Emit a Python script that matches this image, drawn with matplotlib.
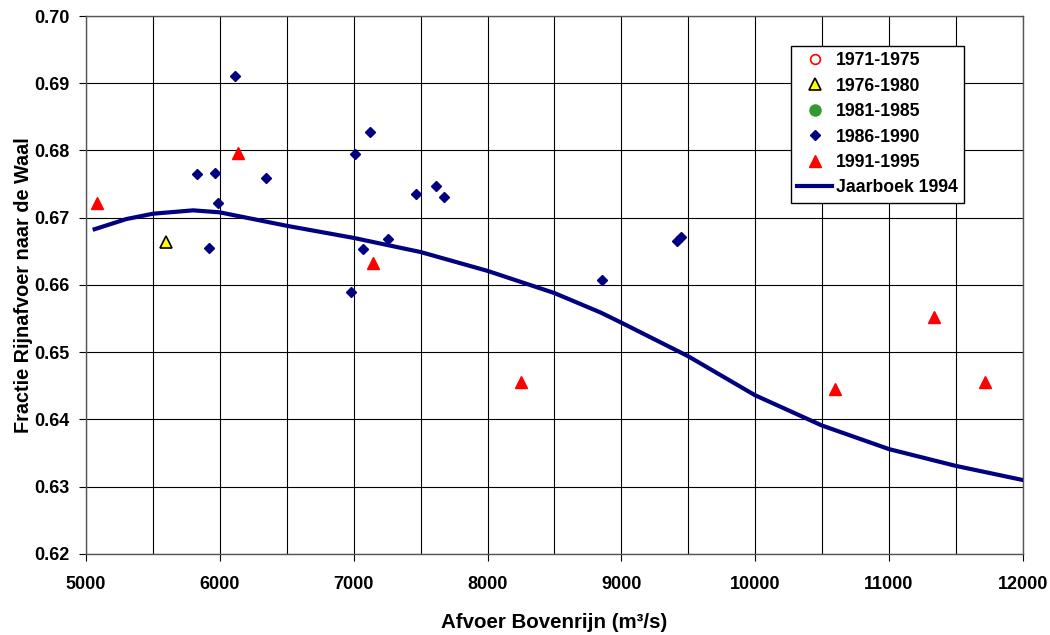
import matplotlib
matplotlib.use("Agg")
import matplotlib.pyplot as plt
from matplotlib.ticker import MultipleLocator

plt.rcParams['font.family'] = ['Liberation Sans', 'DejaVu Sans']
plt.rcParams['font.weight'] = 'bold'

# observed points per period (afvoer m3/s, fractie Waal)
q_7175, f_7175 = [], []
q_7680, f_7680 = [5600], [0.6664]
q_8185, f_8185 = [], []
q_8690 = [6112, 5828, 5963, 5985, 5918, 6343, 7007, 7119, 7067, 7254, 6978,
          7463, 7612, 7672, 8858, 9420, 9445]
f_8690 = [0.6911, 0.6765, 0.6767, 0.6722, 0.6655, 0.6759, 0.6795, 0.6827, 0.6654, 0.6668, 0.6589,
          0.6736, 0.6747, 0.6731, 0.6607, 0.6666, 0.6672]
q_9195 = [5080, 6134, 7142, 8247, 10599, 11336, 11718]
f_9195 = [0.6722, 0.6796, 0.6633, 0.6455, 0.6445, 0.6553, 0.6455]

# Jaarboek 1994 curve
q_jb = [5064, 5300, 5500, 5800, 6000, 6500, 7000, 7500, 8000, 8500, 8846,
        9000, 9500, 10000, 10500, 11000, 11500, 12000]
f_jb = [0.6683, 0.6698, 0.6706, 0.6711, 0.6708, 0.6688, 0.6670, 0.6649, 0.6621, 0.6588, 0.6559,
        0.6544, 0.6494, 0.6436, 0.6391, 0.6356, 0.6331, 0.6310]

fig = plt.figure(figsize=(10.5, 6.35), dpi=100)
ax = fig.add_axes([0.082, 0.1276, 0.892, 0.8472])

ax.plot(q_7175, f_7175, 'o', mfc='white', mec='red', ms=7, mew=1.2, label='1971-1975')
ax.plot(q_7680, f_7680, '^', mfc='yellow', mec='black', ms=8, mew=1.2, label='1976-1980')
ax.plot(q_8185, f_8185, 'o', color='#339933', ms=8, label='1981-1985')
ax.plot(q_8690, f_8690, 'D', color='#000080', ms=5.5, label='1986-1990', zorder=4)
ax.plot(q_9195, f_9195, '^', color='red', ms=8.5, label='1991-1995', zorder=4)
ax.plot(q_jb, f_jb, '-', color='#000080', lw=3, label='Jaarboek 1994', zorder=3)

ax.set_xlim(5000, 12000)
ax.set_ylim(0.62, 0.70)
ax.xaxis.set_major_locator(MultipleLocator(1000))
ax.xaxis.set_minor_locator(MultipleLocator(500))
ax.yaxis.set_major_locator(MultipleLocator(0.01))
ax.yaxis.set_major_formatter(matplotlib.ticker.FormatStrFormatter('%.2f'))
ax.grid(True, which='both', color='black', lw=0.8)
ax.set_axisbelow(True)
ax.tick_params(axis='both', which='major', labelsize=13, length=5, direction='out', pad=7)
ax.tick_params(axis='x', which='minor', length=0)
ax.tick_params(axis='x', which='major', pad=11)
for s in ax.spines.values():
    s.set_color('#555555')
    s.set_linewidth(1.0)

ax.set_xlabel("Afvoer Bovenrijn (m³/s)", fontsize=14.8, fontweight='bold', labelpad=14)
ax.set_ylabel("Fractie Rijnafvoer naar de Waal", fontsize=14.3, fontweight='bold', labelpad=0.5)

leg = ax.legend(loc='upper left', bbox_to_anchor=(0.7533, 0.9276), bbox_transform=fig.transFigure,
                fancybox=False, edgecolor='black', framealpha=1, fontsize=12.7,
                handlelength=2.0, handletextpad=0.2, borderpad=0.35, borderaxespad=0,
                labelspacing=0.48)
leg.get_frame().set_linewidth(1.0)

plt.savefig('out.png', dpi=100)
